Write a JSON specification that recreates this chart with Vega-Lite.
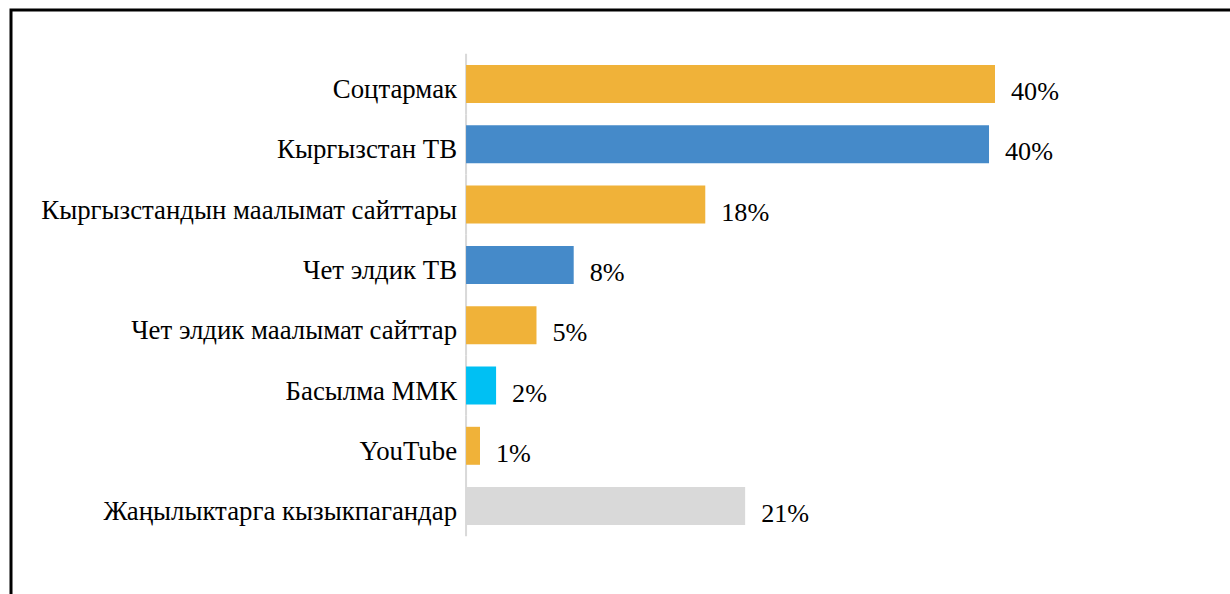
{
  "$schema": "https://vega.github.io/schema/vega-lite/v6.json",
  "width": 1230,
  "height": 603,
  "autosize": {"type": "none"},
  "padding": {"left": 11, "top": 10, "right": 0, "bottom": 0},
  "background": "white",
  "config": {
    "view": {"stroke": "black", "strokeWidth": 3},
    "font": "'Liberation Serif', 'Times New Roman', serif"
  },
  "data": {
    "values": [
      {"cat": "Соцтармак", "value": 39.8, "label": "40%", "group": "online"},
      {"cat": "Кыргызстан ТВ", "value": 39.35, "label": "40%", "group": "tv"},
      {"cat": "Кыргызстандын маалымат сайттары", "value": 18.0, "label": "18%", "group": "online"},
      {"cat": "Чет элдик ТВ", "value": 8.1, "label": "8%", "group": "tv"},
      {"cat": "Чет элдик маалымат сайттар", "value": 5.3, "label": "5%", "group": "online"},
      {"cat": "Басылма ММК", "value": 2.26, "label": "2%", "group": "print"},
      {"cat": "YouTube", "value": 1.05, "label": "1%", "group": "online"},
      {"cat": "Жаңылыктарга кызыкпагандар", "value": 21.0, "label": "21%", "group": "none"}
    ]
  },
  "encoding": {
    "y": {
      "field": "cat",
      "type": "nominal",
      "sort": null,
      "axis": null,
      "scale": {"paddingInner": 0, "paddingOuter": 1, "align": 0.3636}
    }
  },
  "layer": [
    {
      "mark": {"type": "rect", "fill": null, "stroke": "#D9D9D9", "strokeWidth": 2},
      "encoding": {
        "x": {"datum": 0, "type": "quantitative", "scale": {"domain": [-34.24, 58.31], "nice": false, "zero": false}, "axis": null},
        "x2": {"datum": 0}
      }
    },
    {
      "mark": {"type": "bar", "height": {"band": 0.63}},
      "encoding": {
        "x": {"field": "value", "type": "quantitative", "axis": null},
        "x2": {"datum": 0},
        "color": {
          "field": "group",
          "type": "nominal",
          "legend": null,
          "scale": {"domain": ["online", "tv", "print", "none"], "range": ["#F0B239", "#458AC9", "#00C0F3", "#D9D9D9"]}
        }
      }
    },
    {
      "mark": {"type": "text", "align": "right", "baseline": "middle", "dx": -9, "dy": 6, "fontSize": 26.8, "font": "'Liberation Serif', 'Times New Roman', serif", "color": "#000000"},
      "encoding": {
        "x": {"datum": 0, "type": "quantitative"},
        "text": {"field": "cat"}
      }
    },
    {
      "mark": {"type": "text", "align": "left", "baseline": "middle", "dx": 16, "dy": 8, "fontSize": 26.2, "font": "'Liberation Serif', 'Times New Roman', serif", "color": "#000000"},
      "encoding": {
        "x": {"field": "value", "type": "quantitative"},
        "text": {"field": "label"}
      }
    }
  ]
}
